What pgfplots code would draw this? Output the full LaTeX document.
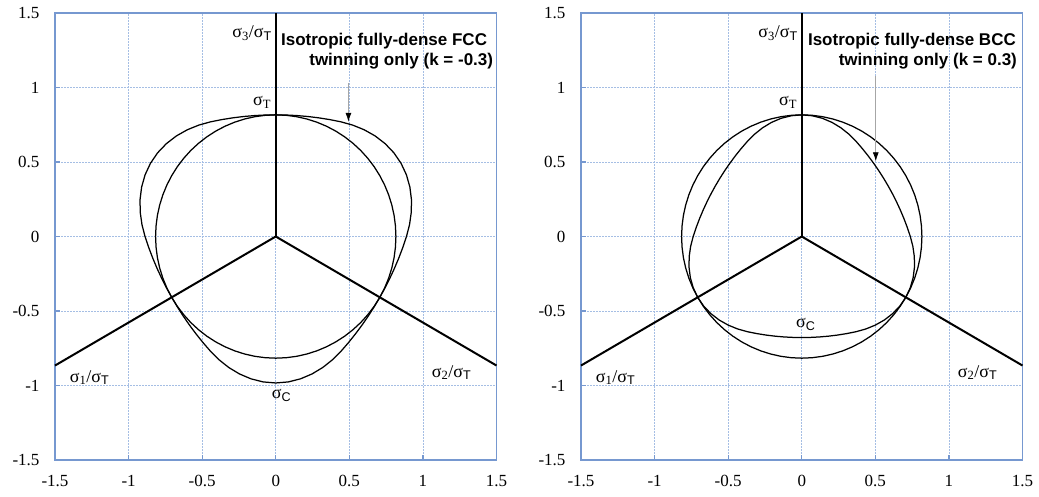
\documentclass[border=0pt]{standalone}
\usepackage{pgfplots}
\pgfplotsset{compat=1.18}
\usepackage{fontspec}
\setmainfont{Liberation Serif}
\newfontfamily\arial{Liberation Sans}
\usetikzlibrary{arrows.meta}

\definecolor{frameblue}{RGB}{118,152,208}
\definecolor{gridblue}{RGB}{165,190,228}

% sigma with a subscript
\newcommand{\sig}[1]{σ\textsubscript{#1}}
\newcommand{\sigs}[1]{σ\textsubscript{\arial #1}}

\pgfplotsset{
  panel/.style={
    scale only axis,
    width=441.5pt, height=447pt,
    xmin=-1.5, xmax=1.5, ymin=-1.5, ymax=1.5,
    xtick={-1.5,-1,-0.5,0,0.5,1,1.5},
    ytick={-1.5,-1,-0.5,0,0.5,1,1.5},
    grid=major,
    major grid style={gridblue, line width=0.8pt, dash pattern=on 2pt off 1pt},
    axis line style={frameblue, line width=1.4pt},
    tick style={frameblue, line width=1.2pt},
    tick align=inside, tick pos=left, major tick length=5pt,
    /pgf/number format/assume math mode=true,
    tick label style={font=\fontsize{17pt}{20pt}\selectfont},
    yticklabel style={xshift=-12pt},
    xticklabel style={yshift=-12pt},
    clip=false,
  },
  pax/.style={black, line width=2pt},
  curve/.style={black, line width=1.25pt, data cs=polar},
}
\tikzset{
  lab/.style={font=\fontsize{18pt}{20pt}\selectfont, inner sep=0pt},
  note/.style={font=\arial\bfseries\fontsize{17pt}{20pt}\selectfont, inner sep=0pt, anchor=base east},
}

\begin{document}
\begin{tikzpicture}
\useasboundingbox (0pt,0pt) rectangle (1039pt,-496pt);

% ---------------- FCC, k = -0.3 ----------------
\begin{axis}[panel, at={(55pt,-460pt)}, anchor=south west]
  % principal stress axes
  \addplot[pax] coordinates {(0,0) (0,1.5)};
  \addplot[pax] coordinates {(0,0) (-1.5,-0.866)};
  \addplot[pax] coordinates {(0,0) (1.5,-0.866)};
  % von Mises circle
  \addplot[curve] coordinates {
    (0,0.8165) (5,0.8165) (10,0.8165) (15,0.8165) (20,0.8165) (25,0.8165)
    (30,0.8165) (35,0.8165) (40,0.8165) (45,0.8165) (50,0.8165) (55,0.8165)
    (60,0.8165) (65,0.8165) (70,0.8165) (75,0.8165) (80,0.8165) (85,0.8165)
    (90,0.8165) (95,0.8165) (100,0.8165) (105,0.8165) (110,0.8165) (115,0.8165)
    (120,0.8165) (125,0.8165) (130,0.8165) (135,0.8165) (140,0.8165) (145,0.8165)
    (150,0.8165) (155,0.8165) (160,0.8165) (165,0.8165) (170,0.8165) (175,0.8165)
    (180,0.8165) (185,0.8165) (190,0.8165) (195,0.8165) (200,0.8165) (205,0.8165)
    (210,0.8165) (215,0.8165) (220,0.8165) (225,0.8165) (230,0.8165) (235,0.8165)
    (240,0.8165) (245,0.8165) (250,0.8165) (255,0.8165) (260,0.8165) (265,0.8165)
    (270,0.8165) (275,0.8165) (280,0.8165) (285,0.8165) (290,0.8165) (295,0.8165)
    (300,0.8165) (305,0.8165) (310,0.8165) (315,0.8165) (320,0.8165) (325,0.8165)
    (330,0.8165) (335,0.8165) (340,0.8165) (345,0.8165) (350,0.8165) (355,0.8165)
    (360,0.8165)};
  % twinning yield locus (angle, radius)
  \addplot[curve] coordinates {
    (90,0.8165) (95,0.8184) (100,0.8242) (105,0.8340) (110,0.8478) (115,0.8659)
    (120,0.8883) (125,0.9125) (130,0.9351) (135,0.9547) (140,0.9699) (145,0.9797)
    (150,0.9830) (155,0.9797) (160,0.9699) (165,0.9547) (170,0.9351) (175,0.9125)
    (180,0.8883) (185,0.8659) (190,0.8478) (195,0.8340) (200,0.8242) (205,0.8184)
    (210,0.8165) (215,0.8184) (220,0.8242) (225,0.8340) (230,0.8478) (235,0.8659)
    (240,0.8883) (245,0.9125) (250,0.9351) (255,0.9547) (260,0.9699) (265,0.9797)
    (270,0.9830) (275,0.9797) (280,0.9699) (285,0.9547) (290,0.9351) (295,0.9125)
    (300,0.8883) (305,0.8659) (310,0.8478) (315,0.8340) (320,0.8242) (325,0.8184)
    (330,0.8165) (335,0.8184) (340,0.8242) (345,0.8340) (350,0.8478) (355,0.8659)
    (360,0.8883) (365,0.9125) (370,0.9351) (375,0.9547) (380,0.9699) (385,0.9797)
    (390,0.9830) (395,0.9797) (400,0.9699) (405,0.9547) (410,0.9351) (415,0.9125)
    (420,0.8883) (425,0.8659) (430,0.8478) (435,0.8340) (440,0.8242) (445,0.8184)
    (450,0.8165)};
  \node[lab, anchor=base east] at (axis cs:-0.025,1.336) {\sig{3}/\sigs{T}};
  \node[lab, anchor=base east] at (axis cs:-0.03,0.879) {\sig{T}};
  \node[lab, anchor=base west] at (axis cs:-1.40,-0.978) {\sig{1}/\sigs{T}};
  \node[lab, anchor=base west] at (axis cs:1.06,-0.944) {\sig{2}/\sigs{T}};
  \node[lab, anchor=base west] at (axis cs:-0.027,-1.087) {\sigs{C}};
  \node[note] at (axis cs:1.437,1.282) {Isotropic fully-dense FCC};
  \node[note] at (axis cs:1.478,1.148) {twinning only (k = -0.3)};
  \draw[gray!70, line width=0.8pt, -{Latex[black,length=9pt,width=6pt]}]
    (axis cs:0.494,1.03) -- (axis cs:0.494,0.77);
\end{axis}

% ---------------- BCC, k = 0.3 ----------------
\begin{axis}[panel, at={(581pt,-460pt)}, anchor=south west]
  \addplot[pax] coordinates {(0,0) (0,1.5)};
  \addplot[pax] coordinates {(0,0) (-1.5,-0.866)};
  \addplot[pax] coordinates {(0,0) (1.5,-0.866)};
  \addplot[curve] coordinates {
    (0,0.8165) (5,0.8165) (10,0.8165) (15,0.8165) (20,0.8165) (25,0.8165)
    (30,0.8165) (35,0.8165) (40,0.8165) (45,0.8165) (50,0.8165) (55,0.8165)
    (60,0.8165) (65,0.8165) (70,0.8165) (75,0.8165) (80,0.8165) (85,0.8165)
    (90,0.8165) (95,0.8165) (100,0.8165) (105,0.8165) (110,0.8165) (115,0.8165)
    (120,0.8165) (125,0.8165) (130,0.8165) (135,0.8165) (140,0.8165) (145,0.8165)
    (150,0.8165) (155,0.8165) (160,0.8165) (165,0.8165) (170,0.8165) (175,0.8165)
    (180,0.8165) (185,0.8165) (190,0.8165) (195,0.8165) (200,0.8165) (205,0.8165)
    (210,0.8165) (215,0.8165) (220,0.8165) (225,0.8165) (230,0.8165) (235,0.8165)
    (240,0.8165) (245,0.8165) (250,0.8165) (255,0.8165) (260,0.8165) (265,0.8165)
    (270,0.8165) (275,0.8165) (280,0.8165) (285,0.8165) (290,0.8165) (295,0.8165)
    (300,0.8165) (305,0.8165) (310,0.8165) (315,0.8165) (320,0.8165) (325,0.8165)
    (330,0.8165) (335,0.8165) (340,0.8165) (345,0.8165) (350,0.8165) (355,0.8165)
    (360,0.8165)};
  \addplot[curve] coordinates {
    (90,0.8165) (95,0.8137) (100,0.8057) (105,0.7930) (110,0.7767) (115,0.7579)
    (120,0.7378) (125,0.7192) (130,0.7042) (135,0.6927) (140,0.6846) (145,0.6798)
    (150,0.6782) (155,0.6798) (160,0.6846) (165,0.6927) (170,0.7042) (175,0.7192)
    (180,0.7378) (185,0.7579) (190,0.7767) (195,0.7930) (200,0.8057) (205,0.8137)
    (210,0.8165) (215,0.8137) (220,0.8057) (225,0.7930) (230,0.7767) (235,0.7579)
    (240,0.7378) (245,0.7192) (250,0.7042) (255,0.6927) (260,0.6846) (265,0.6798)
    (270,0.6782) (275,0.6798) (280,0.6846) (285,0.6927) (290,0.7042) (295,0.7192)
    (300,0.7378) (305,0.7579) (310,0.7767) (315,0.7930) (320,0.8057) (325,0.8137)
    (330,0.8165) (335,0.8137) (340,0.8057) (345,0.7930) (350,0.7767) (355,0.7579)
    (360,0.7378) (365,0.7192) (370,0.7042) (375,0.6927) (380,0.6846) (385,0.6798)
    (390,0.6782) (395,0.6798) (400,0.6846) (405,0.6927) (410,0.7042) (415,0.7192)
    (420,0.7378) (425,0.7579) (430,0.7767) (435,0.7930) (440,0.8057) (445,0.8137)
    (450,0.8165)};
  \node[lab, anchor=base east] at (axis cs:-0.025,1.336) {\sig{3}/\sigs{T}};
  \node[lab, anchor=base east] at (axis cs:-0.03,0.879) {\sig{T}};
  \node[lab, anchor=base west] at (axis cs:-1.40,-0.978) {\sig{1}/\sigs{T}};
  \node[lab, anchor=base west] at (axis cs:1.06,-0.944) {\sig{2}/\sigs{T}};
  \node[lab, anchor=base west] at (axis cs:-0.04,-0.609) {\sigs{C}};
  \node[note] at (axis cs:1.456,1.282) {Isotropic fully-dense BCC};
  \node[note] at (axis cs:1.463,1.148) {twinning only (k = 0.3)};
  \draw[gray!70, line width=0.8pt, -{Latex[black,length=9pt,width=6pt]}]
    (axis cs:0.503,1.074) -- (axis cs:0.503,0.505);
\end{axis}
\end{tikzpicture}
\end{document}
